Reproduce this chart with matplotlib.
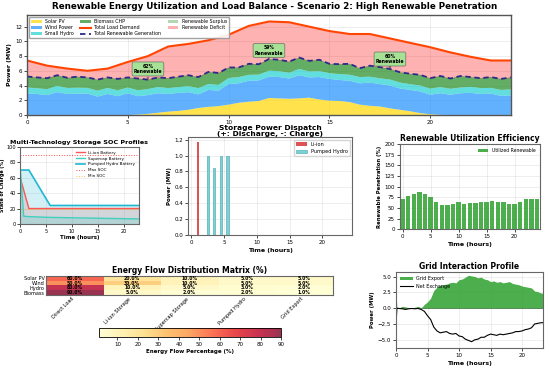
import numpy as np
import matplotlib
matplotlib.use("Agg")
import matplotlib.pyplot as plt

# ---------------- data ----------------
hours_main = np.arange(49) * 0.5
solar = [0, 0, 0, 0, 0, 0, 0, 0, 0, 0, 0, 0.05, 0.15, 0.3, 0.45, 0.55, 0.7, 0.95, 1.1, 1.2,
         1.4, 1.65, 1.8, 1.9, 2.3, 2.25, 2.2, 2.25, 2.35, 2.1, 1.95, 1.9, 1.75, 1.4, 1.25, 1.15,
         0.9, 0.7, 0.5, 0.25, 0.1, 0.02, 0, 0, 0, 0, 0, 0, 0]
wind = [2.93, 2.85, 2.7, 3.1, 2.85, 2.9, 2.9, 2.5, 2.85, 2.55, 2.95, 2.5, 2.55, 2.65, 2.4, 2.45,
        2.4, 1.85, 2.3, 2.1, 2.8, 2.65, 2.85, 2.8, 2.9, 2.9, 2.75, 3.15, 2.75, 3.05, 2.95, 2.85,
        2.9, 2.9, 3.15, 3.05, 3.1, 2.9, 2.9, 2.95, 2.65, 2.93, 2.75, 2.95, 3.0, 2.85, 2.9, 2.6, 2.65]
hydro = [0.80, 0.78, 0.80, 0.85, 0.82, 0.80, 0.78, 0.80, 0.82, 0.80, 0.78, 0.80, 0.82, 0.85, 0.80,
         0.78, 0.82, 0.85, 0.80, 0.78, 0.82, 0.85, 0.80, 0.78, 0.82, 0.80, 0.78, 0.85, 0.82, 0.80,
         0.78, 0.80, 0.82, 0.85, 0.80, 0.78, 0.82, 0.80, 0.78, 0.80, 0.82, 0.85, 0.80, 0.78, 0.82,
         0.80, 0.78, 0.80, 0.82]
biomass = [1.50, 1.47, 1.50, 1.45, 1.38, 1.50, 1.42, 1.50, 1.43, 1.55, 1.37, 1.60, 1.28, 1.30, 1.35,
           1.42, 1.48, 1.50, 1.65, 1.62, 1.43, 1.30, 1.50, 1.42, 1.58, 1.55, 1.52, 1.55, 1.43, 1.55,
           1.27, 1.35, 1.48, 1.20, 1.50, 1.52, 1.43, 1.40, 1.42, 1.45, 1.43, 1.50, 1.40, 1.57, 1.33,
           1.35, 1.47, 1.50, 1.63]
load = [7.4, 7.05, 6.7, 6.5, 6.3, 6.15, 6.0, 6.15, 6.3, 6.75, 7.2, 7.6, 8.0, 8.65, 9.3, 9.48, 9.65,
        9.9, 10.15, 10.52, 10.9, 11.5, 12.1, 12.4, 12.7, 12.65, 12.6, 12.3, 12.0, 11.7, 11.4, 11.2,
        11.0, 11.0, 11.0, 10.7, 10.4, 10.1, 9.8, 9.5, 9.2, 8.85, 8.5, 8.2, 7.9, 7.65, 7.4, 7.4, 7.4]
annot_hours = [6, 12, 18]
annot_labels = ["62%\nRenewable", "59%\nRenewable", "60%\nRenewable"]
annot_text_y = [6.25, 8.75, 7.6]

soc_time = [0, 0.75, 1.75, 5.85, 23]
soc_liion = [62, 44, 20, 20, 20]
soc_supercap = [80, 10, 9.5, 8.5, 6.5]
soc_pumped = [70, 70, 70, 24, 24]
soc_max, soc_min = 90, 20

hours24 = np.arange(24)
disp_liion = [0, 1.17, 0, 0, 0, 0, 0, 0, 0, 0, 0, 0, 0, 0, 0, 0, 0, 0, 0, 0, 0, 0, 0, 0]
disp_pumped = [0, 0, 1.0, 0.84, 1.0, 1.0, 0, 0, 0, 0, 0, 0, 0, 0, 0, 0, 0, 0, 0, 0, 0, 0, 0, 0]

hours25 = np.arange(25)
util = [71, 77, 83, 87, 83, 75, 63, 57, 57, 60, 63, 60, 62, 62, 64, 64, 67, 63, 63, 60, 59, 63, 71, 71, 71]

sources = ["Solar PV", "Wind", "Hydro", "Biomass"]
sinks = ["Direct Load", "Li-ion Storage", "Supercap Storage", "Pumped Hydro", "Grid Export"]
flow = np.array([[60.0, 20.0, 10.0, 5.0, 5.0],
                 [50.0, 30.0, 10.0, 5.0, 5.0],
                 [80.0, 10.0, 5.0, 3.0, 2.0],
                 [90.0, 5.0, 2.0, 2.0, 1.0]])

grid_time = [0, 0.15, 0.5, 1.0, 1.5, 2.0, 2.5, 3.0, 3.5, 4.0, 4.5, 5.0, 5.5, 6.0, 6.5, 7.0, 7.5, 8.0,
             8.5, 9.0, 9.5, 10.0, 10.5, 11.0, 11.5, 12.0, 12.5, 13.0, 13.5, 14.0, 14.5, 15.0, 15.5,
             16.0, 16.5, 17.0, 17.5, 18.0, 18.5, 19.0, 19.5, 20.0, 20.5, 21.0, 21.5, 22.0, 22.5,
             23.0, 23.5]
grid_export = [2.5, 0.0, 0.05, 0.3, 0.2, 0.1, 0.05, 0.15, 0.3, 0.05, 0.6, 1.0, 1.6, 2.8, 3.3, 3.6,
               3.7, 3.8, 4.0, 4.1, 4.0, 4.5, 4.6, 4.9, 5.2, 5.1, 5.0, 4.8, 4.9, 4.6, 4.5, 4.2, 4.3,
               4.1, 4.2, 4.0, 4.1, 4.2, 3.9, 3.8, 3.7, 3.5, 3.4, 3.3, 3.2, 2.7, 2.6, 2.4, 2.3]
net_exchange = [-2.5, 0.0, -0.05, -0.1, -0.2, -0.1, -0.05, -0.1, -0.05, -0.2, -0.5, -1.2, -1.8,
                -3.0, -3.6, -3.9, -3.8, -3.7, -4.0, -4.1, -4.0, -4.4, -4.5, -4.9, -5.1, -5.3, -5.0,
                -4.9, -4.6, -4.6, -4.3, -4.1, -4.2, -4.3, -4.1, -4.2, -4.1, -4.0, -3.9, -3.7, -3.7,
                -3.6, -3.4, -3.3, -3.1, -2.5, -2.4, -2.3, -2.3]

# ---------------- style ----------------
TICK = 4
LAB = 4.5
TTL = 5.5


def style(ax, lw=0.8, col="#666666", tick=TICK):
    for s in ax.spines.values():
        s.set_linewidth(lw)
        s.set_color(col)
    ax.tick_params(labelsize=tick, length=2, width=0.5, pad=1.5)
    ax.grid(True, alpha=0.3, linewidth=0.5)
    ax.set_axisbelow(True)


fig = plt.figure(figsize=(5.5, 3.72), dpi=100)
fig.text(0.5, 0.982, "Renewable Energy Utilization and Load Balance - Scenario 2: High Renewable Penetration",
         ha="center", va="center", fontsize=6.3, fontweight="bold")

# ---------------- main ----------------
ax = fig.add_axes([0.049, 0.691, 0.880, 0.269])
style(ax, lw=1.0, col="#555555")
ax.stackplot(hours_main, solar, wind, hydro, biomass,
             colors=["#FFD700", "#1E90FF", "#20D0D0", "#228B22"], alpha=0.7,
             labels=["Solar PV", "Wind Power", "Small Hydro", "Biomass CHP"], linewidth=0)
total = np.sum([solar, wind, hydro, biomass], axis=0)
load_arr = np.array(load)
ax.plot(hours_main, load_arr, color="#FF4500", lw=1.5, label="Total Load Demand")
ax.plot(hours_main, total, color="#2B2B8C", lw=1.3, ls=(0, (3, 2)), label="Total Renewable Generation")
ax.fill_between(hours_main, total, load_arr, where=total >= load_arr, color="green", alpha=0.3,
                interpolate=True, label="Renewable Surplus", linewidth=0)
ax.fill_between(hours_main, total, load_arr, where=load_arr >= total, color="red", alpha=0.3,
                interpolate=True, label="Renewable Deficit", linewidth=0)
for h, lab, ty in zip(annot_hours, annot_labels, annot_text_y):
    idx = int(np.argmin(np.abs(hours_main - h)))
    ax.annotate(lab, xy=(h, total[idx]), xytext=(h, ty), ha="center", va="center",
                fontsize=3.3, fontweight="bold",
                bbox=dict(boxstyle="round,pad=0.35", facecolor="#90EE90", alpha=0.8, edgecolor="#555555", linewidth=0.5),
                arrowprops=dict(arrowstyle="->", color="#555555", lw=0.5))
ax.set_xlim(0, 24)
ax.set_ylim(0, 13.6)
ax.set_xticks([0, 5, 10, 15, 20])
ax.set_yticks([0, 2, 4, 6, 8, 10, 12])
ax.set_ylabel("Power (MW)", fontsize=LAB, fontweight="bold", labelpad=2)
ax.legend(loc="upper left", ncol=3, fontsize=3.4, frameon=True, framealpha=0.9, edgecolor="#999999",
          handlelength=2.2, columnspacing=1.3, borderpad=0.4, labelspacing=0.25)

# ---------------- SOC ----------------
ax2 = fig.add_axes([0.036, 0.398, 0.217, 0.207])
style(ax2, tick=3.6)
ax2.plot(soc_time, soc_liion, color="#FF5555", lw=1.0, label="Li-ion Battery")
ax2.fill_between(soc_time, soc_liion, color="#FF5555", alpha=0.2, linewidth=0)
ax2.plot(soc_time, soc_supercap, color="#40D0C0", lw=1.0, label="Supercap Battery")
ax2.fill_between(soc_time, soc_supercap, color="#40D0C0", alpha=0.2, linewidth=0)
ax2.plot(soc_time, soc_pumped, color="#1FB8D0", lw=1.2, label="Pumped Hydro Battery")
ax2.fill_between(soc_time, soc_pumped, color="#1FB8D0", alpha=0.2, linewidth=0)
ax2.axhline(soc_max, color="red", ls=":", lw=0.7, alpha=0.7, label="Max SOC")
ax2.axhline(soc_min, color="orange", ls=":", lw=0.7, alpha=0.7, label="Min SOC")
ax2.set_xlim(0, 23)
ax2.set_ylim(0, 100)
ax2.set_yticks([0, 20, 40, 60, 80, 100])
ax2.set_xticks([0, 5, 10, 15, 20])
ax2.tick_params(axis="y", pad=1)
ax2.set_title("Multi-Technology Storage SOC Profiles", fontsize=4.6, fontweight="bold", pad=2)
ax2.set_xlabel("Time (hours)", fontsize=4, fontweight="bold", labelpad=1)
ax2.set_ylabel("State of Charge (%)", fontsize=3.4, fontweight="bold", labelpad=0.5)
ax2.legend(loc="upper right", fontsize=3, frameon=False, handlelength=2.2, labelspacing=0.45)

# ---------------- storage dispatch ----------------
ax3 = fig.add_axes([0.342, 0.368, 0.298, 0.263])
style(ax3)
ax3.bar(hours24, disp_liion, width=0.35, color="#D62728", alpha=0.8, label="Li-ion")
ax3.bar(hours24 + 0.5, disp_pumped, width=0.35, color="#7FD0D4", edgecolor="#3AA6AE", linewidth=0.4,
        label="Pumped Hydro")
ax3.set_xlim(-0.5, 24.5)
ax3.set_ylim(0, 1.23)
ax3.set_xticks([0, 5, 10, 15, 20])
ax3.set_yticks([0, 0.2, 0.4, 0.6, 0.8, 1.0, 1.2])
ax3.set_title("Storage Power Dispatch\n(+: Discharge, -: Charge)", fontsize=5.4, fontweight="bold", pad=1,
              linespacing=1.0)
ax3.set_xlabel("Time (hours)", fontsize=LAB, fontweight="bold", labelpad=2)
ax3.set_ylabel("Power (MW)", fontsize=4, fontweight="bold", labelpad=2)
ax3.legend(loc="upper right", fontsize=3.6, frameon=True, edgecolor="#cccccc", handlelength=2.2)

# ---------------- utilization ----------------
ax4 = fig.add_axes([0.727, 0.384, 0.2545, 0.2285])
style(ax4)
ax4.bar(hours25, util, width=0.8, color="#2CA02C", alpha=0.85, label="Utilized Renewable")
ax4.set_xlim(-0.5, 24.5)
ax4.set_ylim(0, 200)
ax4.set_yticks([0, 25, 50, 75, 100, 125, 150, 175, 200])
ax4.set_xticks([0, 5, 10, 15, 20])
ax4.set_title("Renewable Utilization Efficiency", fontsize=TTL, fontweight="bold", pad=2)
ax4.set_xlabel("Time (hours)", fontsize=LAB, fontweight="bold", labelpad=2)
ax4.set_ylabel("Renewable Penetration (%)", fontsize=3.8, fontweight="bold", labelpad=2)
ax4.legend(loc="upper right", fontsize=3.3, frameon=False, handlelength=2.2)

# ---------------- heatmap ----------------
ax5 = fig.add_axes([0.0836, 0.207, 0.522, 0.051])
im = ax5.imshow(flow, cmap="YlOrRd", aspect="auto", alpha=0.8, vmin=1, vmax=90)
for i in range(flow.shape[0]):
    for j in range(flow.shape[1]):
        ax5.text(j, i, f"{flow[i, j]:.1f}%", ha="center", va="center", fontsize=3.3,
                 fontweight="bold", color="black")
ax5.set_xticks(range(len(sinks)))
ax5.set_xticklabels(sinks, rotation=45, ha="right", fontsize=3.6)
ax5.set_yticks(range(len(sources)))
ax5.set_yticklabels(sources, fontsize=3.6)
ax5.tick_params(length=0, pad=1)
for s in ax5.spines.values():
    s.set_linewidth(0.8)
    s.set_color("#666666")
ax5.set_title("Energy Flow Distribution Matrix (%)", fontsize=TTL, fontweight="bold", pad=2)

cax = fig.add_axes([0.18, 0.094, 0.331, 0.024])
cb = fig.colorbar(im, cax=cax, orientation="horizontal")
cb.set_ticks([10, 20, 30, 40, 50, 60, 70, 80, 90])
cb.ax.tick_params(labelsize=TICK, length=2, width=0.5, pad=1.5)
cb.outline.set_linewidth(0.6)
cb.set_label("Energy Flow Percentage (%)", fontsize=4, fontweight="bold", labelpad=1.5)

# ---------------- grid ----------------
ax6 = fig.add_axes([0.72, 0.0645, 0.267, 0.204])
style(ax6)
ax6.fill_between(grid_time, 0, grid_export, color="#2CA02C", alpha=0.85, label="Grid Export", linewidth=0)
ax6.plot(grid_time, net_exchange, color="black", lw=0.8, label="Net Exchange")
ax6.axhline(0, color="black", lw=0.4, alpha=0.5)
ax6.set_xlim(0, 23.3)
ax6.set_ylim(-6.3, 5.7)
ax6.set_yticks([-5, -2.5, 0, 2.5, 5])
ax6.set_xticks([0, 5, 10, 15, 20])
ax6.set_title("Grid Interaction Profile", fontsize=TTL, fontweight="bold", pad=2)
ax6.set_xlabel("Time (hours)", fontsize=LAB, fontweight="bold", labelpad=2)
ax6.set_ylabel("Power (MW)", fontsize=3.8, fontweight="bold", labelpad=2)
ax6.legend(loc="upper left", fontsize=3.5, frameon=False, handlelength=2.5)

fig.savefig("out.png", dpi=100)
